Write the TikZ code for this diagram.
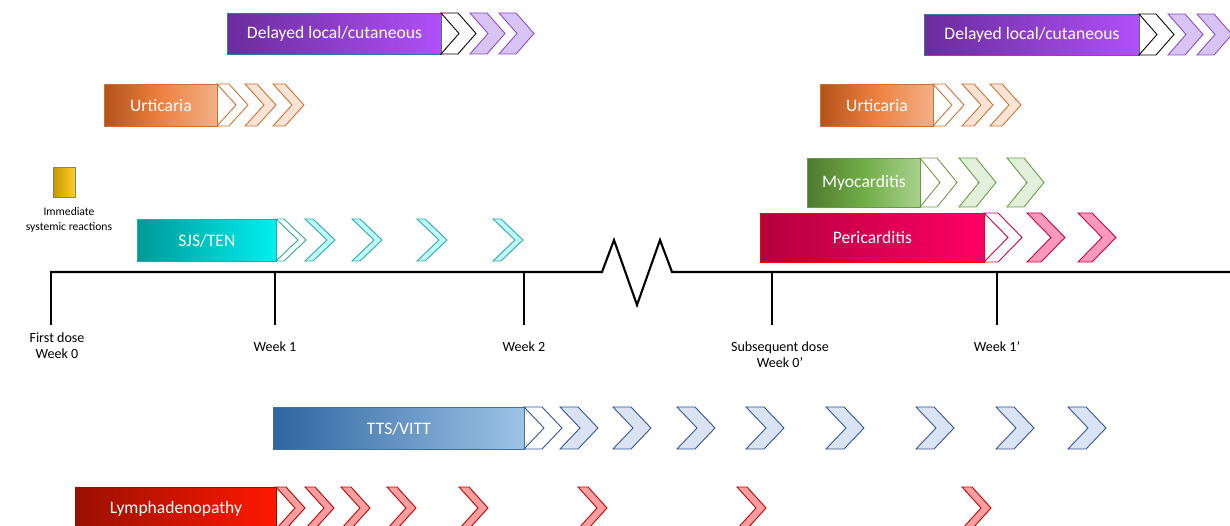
\documentclass[tikz,border=0pt]{standalone}
\usepackage{fontspec}
\setmainfont{Carlito}
\usepackage{tikz}
\usetikzlibrary{positioning}
\definecolor{dlyA}{RGB}{106,44,156}
\definecolor{dlyB}{RGB}{176,80,248}
\definecolor{dlyC}{RGB}{216,196,244}
\definecolor{dlyD}{RGB}{138,76,200}
\definecolor{urtA}{RGB}{181,83,27}
\definecolor{urtB}{RGB}{238,129,64}
\definecolor{urtC}{RGB}{243,176,136}
\definecolor{urtD}{RGB}{251,228,213}
\definecolor{urtE}{RGB}{208,112,48}
\definecolor{myoA}{RGB}{79,122,48}
\definecolor{myoB}{RGB}{112,173,71}
\definecolor{myoC}{RGB}{169,209,142}
\definecolor{myoD}{RGB}{226,239,218}
\definecolor{myoE}{RGB}{106,154,72}
\definecolor{perA}{RGB}{179,0,60}
\definecolor{perB}{RGB}{255,0,102}
\definecolor{perC}{RGB}{255,153,187}
\definecolor{perD}{RGB}{200,0,74}
\definecolor{sjsA}{RGB}{0,153,153}
\definecolor{sjsB}{RGB}{0,240,240}
\definecolor{sjsC}{RGB}{192,255,255}
\definecolor{sjsD}{RGB}{42,168,168}
\definecolor{ttsA}{RGB}{46,101,160}
\definecolor{ttsB}{RGB}{157,195,230}
\definecolor{ttsC}{RGB}{218,227,243}
\definecolor{ttsD}{RGB}{47,85,151}
\definecolor{lymA}{RGB}{154,16,0}
\definecolor{lymB}{RGB}{255,24,0}
\definecolor{lymC}{RGB}{255,159,159}
\definecolor{lymD}{RGB}{192,0,0}
\definecolor{immA}{RGB}{200,152,0}
\definecolor{immB}{RGB}{255,208,42}
\definecolor{edge}{RGB}{65,113,156}

% chevron row: top y, height, top length, depth, fill, draw, x positions
\newcommand{\chevrow}[7]{%
  \foreach \cx in {#7}{
    \draw[chev, fill=#5, draw=#6] (\cx,#1) -- ++(#3,0) -- ++(#4,#2/2) -- ++(-#4,#2/2)
      -- ++(-#3,0) -- ++(#4,-#2/2) -- cycle;
  }}

\begin{document}
\begin{tikzpicture}[x=0.02cm, y=-0.02cm,
    bar/.style={rectangle, anchor=north west, inner sep=0pt, text=white,
      font=\fontsize{10}{12}\selectfont, line width=0.5pt},
    chev/.style={line width=0.5pt, line join=miter},
    axis/.style={line width=1.2pt, line join=miter},
    tickline/.style={line width=0.6pt},
    wk/.style={align=center, font=\fontsize{8}{9.2}\selectfont, inner sep=0pt}
]
\useasboundingbox (0,0) rectangle (1230,526);

% time axis with break
\draw[axis] (50,272) -- (602,272) -- (614,240) -- (637,305) -- (660,240) -- (672,272) -- (1230,272);
\foreach \n/\x in {a/51, b/275, c/524, d/772, e/997}{
  \coordinate (top\n) at (\x,272);
  \coordinate (bot\n) at (\x,325);
  \draw[tickline] (top\n) -- (bot\n);
}
\node[wk] (w0) at (57,346) {First dose\\Week 0};
\node[wk] (w1) at (275,347) {Week 1};
\node[wk] (w2) at (524,347) {Week 2};
\node[wk] (w0p) at (780,355) {Subsequent dose\\Week 0’};
\node[wk] (w1p) at (997,347) {Week 1’};

% immediate
\node[rectangle, anchor=north west, minimum width=22*0.02cm, minimum height=30*0.02cm,
  left color=immA, right color=immB, draw=gray, line width=0.6pt] (imm) at (53,167) {};
\node[align=center, font=\fontsize{6.6}{9}\selectfont, inner sep=0pt] (immtxt) at (69,220) {Immediate\\systemic reactions};

% delayed local/cutaneous
\node[bar, minimum width=214*0.02cm, minimum height=41*0.02cm, left color=dlyA, right color=dlyB, draw=edge] (dly1) at (227,13) {Delayed local/cutaneous};
\chevrow{13}{41}{17}{18}{white}{black}{441}
\chevrow{13}{41}{17}{18}{dlyC}{dlyD}{470,499}
\node[bar, minimum width=215*0.02cm, minimum height=41*0.02cm, left color=dlyA, right color=dlyB, draw=edge] (dly2) at (924,14) {Delayed local/cutaneous};
\chevrow{14}{41}{17}{18}{white}{black}{1139}
\chevrow{14}{41}{17}{18}{dlyC}{dlyD}{1168,1197}

% urticaria
\node[bar, minimum width=113*0.02cm, minimum height=42*0.02cm, left color=urtA, right color=urtC, middle color=urtB, draw=urtE] (urt1) at (104,84) {Urticaria};
\chevrow{84}{42}{12}{19}{white}{urtE}{217}
\chevrow{84}{42}{12}{19}{urtD}{urtE}{245,273}
\node[bar, minimum width=113*0.02cm, minimum height=42*0.02cm, left color=urtA, right color=urtC, middle color=urtB, draw=urtE] (urt2) at (820,84) {Urticaria};
\chevrow{84}{42}{12}{19}{white}{urtE}{933}
\chevrow{84}{42}{12}{19}{urtD}{urtE}{962,990}

% myocarditis
\node[bar, minimum width=113*0.02cm, minimum height=49*0.02cm, left color=myoA, right color=myoC, middle color=myoB, draw=myoE] (myo) at (807,158) {Myocarditis};
\chevrow{158}{49}{17}{20}{white}{myoE}{920}
\chevrow{158}{49}{17}{20}{myoD}{myoE}{959,1007}

% pericarditis
\node[bar, minimum width=224*0.02cm, minimum height=49*0.02cm, left color=perA, right color=perB, draw=red] (per) at (760,213) {Pericarditis};
\chevrow{213}{49}{14}{24}{white}{perD}{984}
\chevrow{213}{49}{14}{24}{perC}{perD}{1027,1078}

% SJS/TEN
\node[bar, minimum width=139*0.02cm, minimum height=42*0.02cm, left color=sjsA, right color=sjsB, draw=sjsD] (sjs) at (137,219) {SJS/TEN};
\chevrow{219}{42}{8}{22}{white}{sjsD}{276}
\chevrow{219}{42}{8}{22}{sjsC}{sjsD}{305,352,417,493}

% TTS/VITT
\node[bar, minimum width=251*0.02cm, minimum height=42*0.02cm, left color=ttsA, right color=ttsB, draw=edge] (tts) at (273,407) {TTS/VITT};
\chevrow{407}{42}{18}{20}{white}{ttsD}{524}
\chevrow{407}{42}{18}{20}{ttsC}{ttsD}{560,613,677,746,826,916,996,1068}

% lymphadenopathy
\node[bar, minimum width=201*0.02cm, minimum height=42*0.02cm, left color=lymA, right color=lymB, draw=lymA] (lym) at (75,487) {Lymphadenopathy};
\chevrow{487}{42}{10}{19}{lymC}{lymD}{276,305,341,387,459,578,737,962}
\end{tikzpicture}
\end{document}
